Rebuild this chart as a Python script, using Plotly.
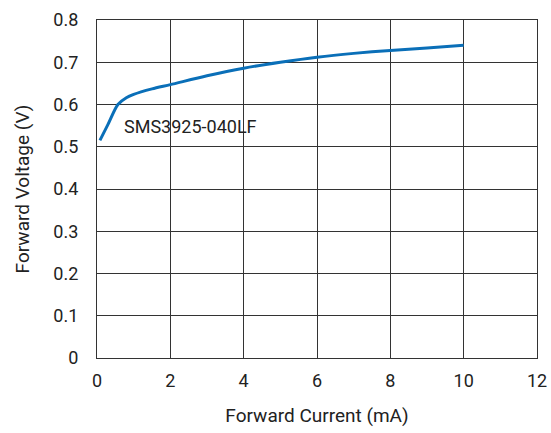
import plotly.graph_objects as go

current_ma = [0.08, 0.3, 0.57, 0.8, 1.0, 1.5, 2, 3, 4, 5, 6, 7, 8, 9, 10]
voltage_v = [0.515, 0.553, 0.600, 0.616, 0.624, 0.637, 0.647, 0.668, 0.686, 0.700, 0.712, 0.721, 0.728, 0.734, 0.740]
label = "SMS3925-040LF"

font_family = "Roboto, Arial"

fig = go.Figure()
fig.add_trace(go.Scatter(x=current_ma, y=voltage_v, mode="lines",
                         line=dict(color="#0a6fb8", width=3, shape="spline", smoothing=0.8),
                         showlegend=False, hoverinfo="skip"))
fig.add_annotation(x=2.55, y=0.547, text=label, showarrow=False,
                   font=dict(size=18, color="#222", family=font_family))

axis_common = dict(showgrid=True, gridcolor="#333", gridwidth=1.3, automargin=False,
                   showline=True, linecolor="#333", linewidth=1.3, mirror=True,
                   zeroline=False, ticks="", tickfont=dict(size=18, color="#222"))
fig.update_xaxes(range=[0, 12], tickvals=[0, 2, 4, 6, 8, 10, 12], ticklabelstandoff=6,
                 title=dict(text="Forward Current (mA)", font=dict(size=19, color="#222"), standoff=18),
                 **axis_common)
fig.update_yaxes(range=[0, 0.8], tickvals=[0, 0.1, 0.2, 0.3, 0.4, 0.5, 0.6, 0.7, 0.8],
                 ticktext=["0", "0.1", "0.2", "0.3", "0.4", "0.5", "0.6", "0.7", "0.8"],
                 ticklabelstandoff=14,
                 title=dict(text="Forward Voltage (V)", font=dict(size=19, color="#222"), standoff=18),
                 **axis_common)
fig.update_layout(width=551, height=433, margin=dict(l=97, r=14, t=20, b=75),
                  plot_bgcolor="white", paper_bgcolor="white",
                  font=dict(family=font_family, color="#222"))
fig.write_html("out.html", config={"displayModeBar": False},
               post_script="document.body.style.margin='0';document.body.style.overflow='hidden';")
